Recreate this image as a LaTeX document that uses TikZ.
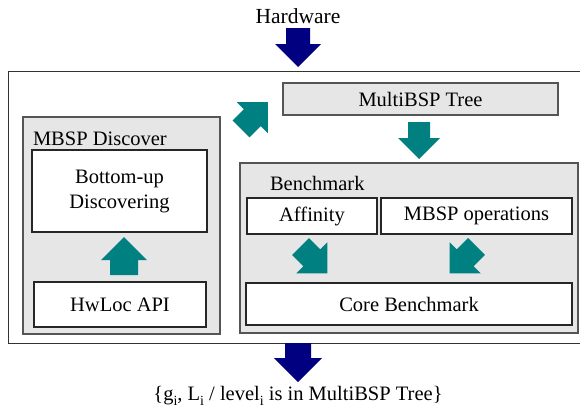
\documentclass[tikz,border=0pt]{standalone}
\usepackage{fontspec}
\setmainfont{Liberation Serif}
\newfontfamily\timesfont{Liberation Serif}
\definecolor{tealA}{RGB}{0,128,128}
\definecolor{navyA}{RGB}{0,0,128}
\definecolor{boxgray}{RGB}{230,230,230}
\definecolor{edgegray}{RGB}{85,85,85}
\newcommand\blkarrow[6]{\fill[#1,shift={(#2)},rotate=#3] (0,-#5) -- ({#4-#6},-#5) -- ({#4-#6},-#6) -- (#4,0) -- ({#4-#6},#6) -- ({#4-#6},#5) -- (0,#5) -- cycle;}
\newcommand\lowi{\raisebox{-4.5pt}{\fontsize{14}{14}\selectfont i}}
\begin{document}
\begin{tikzpicture}[x=1pt,y=-1pt,
  font=\timesfont\fontsize{20.5}{25}\selectfont,
  frame/.style={draw=black!80, line width=1pt, fill=white, inner sep=0, outer sep=0},
  graybox/.style={draw=edgegray, line width=1.5pt, fill=boxgray, inner sep=0, outer sep=0},
  whitebox/.style={draw=black!85, line width=1.2pt, fill=white, inner sep=0, outer sep=0, align=center},
  lbl/.style={inner sep=0, outer sep=0}]
\useasboundingbox (0,0) rectangle (580,410);
\clip (0,0) rectangle (580,410);
% texts outside
\node[lbl, font=\timesfont\fontsize{21.5}{25}\selectfont] (hw) at (298,16) {Hardware};
\node[lbl] (res) at (298,396) {\{g\lowi, L\lowi{} / level\lowi{} is in MultiBSP Tree\}};
% outer frame
\node[frame, minimum width=574, minimum height=272] (outer) at (295,207) {};
% MultiBSP tree
\node[graybox, minimum width=275, minimum height=32] (tree) at (420.5,99) {MultiBSP Tree};
% MBSP discover
\node[graybox, minimum width=197, minimum height=217] (disc) at (121.5,225.5) {};
\node[lbl, anchor=west] (discl) at (33,139) {MBSP Discover};
\node[whitebox, minimum width=175, minimum height=82] (bottom) at (119.5,191) {Bottom-up\\Discovering};
\node[whitebox, minimum width=172, minimum height=45] (hwloc) at (120,304.5) {HwLoc API};
% Benchmark
\node[graybox, minimum width=338, minimum height=170] (bench) at (409,248) {};
\node[lbl, anchor=west] (benchl) at (270,183) {Benchmark};
\node[whitebox, minimum width=130, minimum height=36] (aff) at (312,216) {Affinity};
\node[whitebox, minimum width=191, minimum height=36] (ops) at (476.5,216) {MBSP operations};
\node[whitebox, minimum width=326, minimum height=42] (core) at (409,304) {Core Benchmark};
% arrow anchors
\coordinate (aHw) at (298,28);
\coordinate (aRes) at (298,343);
\coordinate (aTree) at (419,122);
\coordinate (aHwloc) at (124,275);
\coordinate (aDisc) at (241,129);
\coordinate (aAff) at (300.5,246.5);
\coordinate (aOps) at (476.5,246.5);
% block arrows
\blkarrow{navyA}{aHw}{-90}{39}{12}{23}
\blkarrow{navyA}{aRes}{-90}{39}{13}{24}
\blkarrow{tealA}{aTree}{-90}{37}{11}{21}
\blkarrow{tealA}{aHwloc}{90}{38}{14}{23}
\blkarrow{tealA}{aDisc}{45}{38}{12}{22}
\blkarrow{tealA}{aAff}{-45}{38}{12}{22}
\blkarrow{tealA}{aOps}{-135}{38}{12}{22}
\end{tikzpicture}
\end{document}
